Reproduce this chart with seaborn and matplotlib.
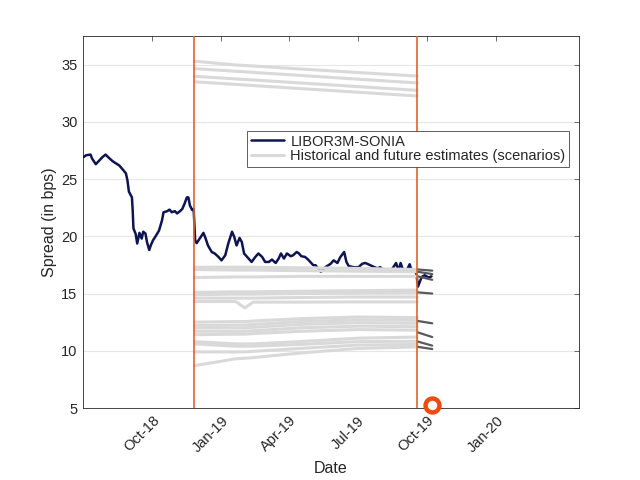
import matplotlib
matplotlib.use('Agg')
import matplotlib.pyplot as plt
import matplotlib.dates as mdates
from matplotlib.lines import Line2D
import numpy as np
import pandas as pd
import seaborn as sns

# Serie storica LIBOR3M-SONIA
libor_dates = [
    '2018-07-02', '2018-07-05', '2018-07-11', '2018-07-13', '2018-07-18', '2018-07-22',
    '2018-07-27', '2018-07-31', '2018-08-04', '2018-08-09', '2018-08-13', '2018-08-18',
    '2018-08-22', '2018-08-27', '2018-08-29', '2018-08-31', '2018-09-04', '2018-09-05',
    '2018-09-06', '2018-09-09', '2018-09-11', '2018-09-14', '2018-09-17', '2018-09-19',
    '2018-09-22', '2018-09-24', '2018-09-27', '2018-09-29', '2018-10-02', '2018-10-05',
    '2018-10-10', '2018-10-14', '2018-10-16', '2018-10-21', '2018-10-24', '2018-10-27',
    '2018-10-31', '2018-11-03', '2018-11-07', '2018-11-10', '2018-11-13', '2018-11-16',
    '2018-11-18', '2018-11-20', '2018-11-23', '2018-11-25', '2018-11-27', '2018-11-29',
    '2018-12-03', '2018-12-08', '2018-12-11', '2018-12-14', '2018-12-19', '2018-12-23',
    '2018-12-28', '2019-01-01', '2019-01-06', '2019-01-10', '2019-01-15', '2019-01-18',
    '2019-01-21', '2019-01-25', '2019-01-28', '2019-01-31', '2019-02-06', '2019-02-10',
    '2019-02-15', '2019-02-19', '2019-02-24', '2019-02-28', '2019-03-05', '2019-03-09',
    '2019-03-14', '2019-03-18', '2019-03-21', '2019-03-25', '2019-03-29', '2019-04-03',
    '2019-04-06', '2019-04-11', '2019-04-14', '2019-04-17', '2019-04-22', '2019-04-26',
    '2019-04-29', '2019-05-03', '2019-05-06', '2019-05-13', '2019-05-19', '2019-05-26',
    '2019-05-30', '2019-06-04', '2019-06-08', '2019-06-13', '2019-06-16', '2019-06-19',
    '2019-06-26', '2019-07-02', '2019-07-07', '2019-07-11', '2019-07-16', '2019-07-20',
    '2019-07-27', '2019-07-31', '2019-08-04', '2019-08-09', '2019-08-13', '2019-08-17',
    '2019-08-21', '2019-08-24', '2019-08-27', '2019-08-31', '2019-09-04', '2019-09-08',
    '2019-09-11', '2019-09-15', '2019-09-17', '2019-09-19', '2019-09-24', '2019-09-28',
    '2019-10-03', '2019-10-07',
]
libor_values = [
    26.93, 27.08, 27.14, 26.80, 26.30, 26.58,
    26.93, 27.14, 26.88, 26.58, 26.40, 26.20,
    25.90, 25.50, 24.90, 23.90, 23.40, 22.30,
    20.70, 20.20, 19.37, 20.30, 19.80, 20.40,
    20.24, 19.50, 18.80, 19.20, 19.65, 19.95,
    20.50, 21.40, 22.10, 22.20, 22.33, 22.10,
    22.20, 22.00, 22.20, 22.40, 22.86, 23.40,
    23.40, 22.70, 22.30, 22.40, 19.65, 19.40,
    19.80, 20.30, 19.80, 19.20, 18.63, 18.50,
    18.20, 17.90, 18.34, 19.37, 20.40, 19.94,
    19.20, 19.86, 19.50, 18.50, 18.06, 17.76,
    18.20, 18.50, 18.20, 17.76, 17.76, 17.97,
    17.67, 18.06, 18.50, 18.06, 18.50, 18.26,
    18.34, 18.63, 18.50, 18.26, 18.20, 17.97,
    17.76, 17.47, 17.47, 16.90, 17.30, 17.60,
    17.90, 17.67, 18.20, 18.63, 17.76, 17.40,
    17.30, 17.30, 17.60, 17.67, 17.53, 17.40,
    17.20, 17.30, 17.07, 17.00, 16.90, 17.27,
    17.67, 17.00, 17.67, 16.90, 17.00, 17.56,
    16.90, 17.00, 16.70, 15.60, 16.45, 16.60,
    16.40, 16.50,
]

# Scenari (stime storiche e future)
scenario_dates = ['2018-11-26', '2019-01-20', '2019-02-01', '2019-02-12',
                  '2019-04-15', '2019-07-01', '2019-09-18']
scenario_values = [
    [35.30, 34.97, 34.92, 34.88, 34.62, 34.31, 34.00],
    [34.65, 34.42, 34.37, 34.32, 34.06, 33.73, 33.40],
    [33.98, 33.75, 33.70, 33.66, 33.40, 33.08, 32.75],
    [33.50, 33.27, 33.22, 33.17, 32.91, 32.59, 32.26],
    [17.30, 17.30, 17.30, 17.30, 17.25, 17.20, 17.10],
    [17.10, 17.05, 17.05, 17.05, 17.00, 16.95, 16.90],
    [16.40, 16.45, 16.45, 16.45, 16.50, 16.50, 16.50],
    [15.10, 15.15, 15.15, 15.15, 15.20, 15.25, 15.30],
    [14.90, 14.95, 14.95, 14.95, 15.00, 15.05, 15.10],
    [14.60, 14.60, 14.60, 14.60, 14.65, 14.70, 14.70],
    [14.30, 14.30, 13.75, 14.25, 14.25, 14.27, 14.27],
    [12.50, 12.55, 12.55, 12.60, 12.80, 12.95, 12.90],
    [12.20, 12.25, 12.25, 12.30, 12.55, 12.70, 12.67],
    [12.00, 12.00, 12.00, 12.05, 12.30, 12.45, 12.40],
    [11.70, 11.70, 11.70, 11.75, 12.00, 12.15, 12.10],
    [11.40, 11.45, 11.45, 11.50, 11.70, 11.85, 11.80],
    [10.80, 10.60, 10.60, 10.60, 10.80, 11.10, 11.20],
    [10.60, 10.40, 10.40, 10.40, 10.55, 10.80, 10.83],
    [9.90, 9.90, 9.90, 9.95, 10.20, 10.50, 10.55],
    [8.70, 9.30, 9.35, 9.40, 9.80, 10.20, 10.34],
]

# Prolungamenti futuri (grigio scuro)
future_dates = ['2019-09-19', '2019-10-08']
future_start = [17.10, 16.90, 16.50, 15.10, 12.60, 11.60, 10.80, 10.34]
future_end = [17.00, 16.70, 16.20, 15.00, 12.40, 11.20, 10.45, 10.15]

event_dates = ['2018-11-26', '2019-09-18']
marker_date = '2019-10-08'
marker_value = 5.25

tick_dates = ['2018-10-01', '2019-01-01', '2019-04-01', '2019-07-01', '2019-10-01', '2020-01-01']

df_libor = pd.DataFrame({'Date': pd.to_datetime(libor_dates), 'Spread': libor_values})
rows = []
for i, vals in enumerate(scenario_values):
    for d, v in zip(scenario_dates, vals):
        rows.append({'Date': pd.to_datetime(d), 'Spread': v, 'scen': i})
df_scen = pd.DataFrame(rows)
rows = []
for i, (a, b) in enumerate(zip(future_start, future_end)):
    rows.append({'Date': pd.to_datetime(future_dates[0]), 'Spread': a, 'scen': i})
    rows.append({'Date': pd.to_datetime(future_dates[1]), 'Spread': b, 'scen': i})
df_future = pd.DataFrame(rows)

sns.set_style('white')
plt.rcParams['font.family'] = ['Liberation Sans', 'DejaVu Sans']

navy = '#0d1452'
grey = '#d9d9d9'
orange = '#e4622a'
axcol = '#262626'

fig = plt.figure(figsize=(6.4, 4.8), dpi=100)
ax = fig.add_axes([83 / 640, 72 / 480, 496 / 640, 372 / 480])

sns.lineplot(data=df_libor, x='Date', y='Spread', color=navy, lw=1.8, ax=ax, zorder=3)
sns.lineplot(data=df_scen, x='Date', y='Spread', units='scen', estimator=None,
             color=grey, lw=2.2, ax=ax, zorder=4)
sns.lineplot(data=df_future, x='Date', y='Spread', units='scen', estimator=None,
             color='#5a5a5a', lw=1.6, ax=ax, zorder=4)
for d in event_dates:
    ax.axvline(pd.to_datetime(d), color=orange, lw=1.2, zorder=5)
ax.plot([pd.to_datetime(marker_date)], [marker_value], 'o', ms=10, mfc='white',
        mec='#f04a0c', mew=3.2, clip_on=False, zorder=6)

ax.set_xlim(pd.to_datetime('2018-07-01'), pd.to_datetime('2020-04-20'))
ax.set_ylim(5, 37.5)
ax.set_yticks([5, 10, 15, 20, 25, 30, 35])
ax.set_xticks(pd.to_datetime(tick_dates))
ax.xaxis.set_major_formatter(mdates.DateFormatter('%b-%y'))
plt.setp(ax.get_xticklabels(), rotation=45, ha='right', rotation_mode='anchor')

ax.yaxis.grid(True, color='#e6e6e6', lw=0.8)
ax.set_axisbelow(True)
for s in ax.spines.values():
    s.set_color(axcol)
    s.set_linewidth(0.6)
ax.tick_params(direction='in', top=True, right=True, length=3.5, width=0.6,
               color='#555555', labelcolor=axcol, labelsize=10.5, pad=4)

ax.set_xlabel('Date', fontsize=11.5, color=axcol)
ax.set_ylabel('Spread (in bps)', fontsize=11.5, color=axcol, labelpad=3)

handles = [Line2D([], [], color=navy, lw=1.8),
           Line2D([], [], color=grey, lw=2.2)]
leg = ax.legend(handles, ['LIBOR3M-SONIA', 'Historical and future estimates (scenarios)'],
                loc='upper right', bbox_to_anchor=(0.98, 0.745), fontsize=10.5,
                frameon=True, fancybox=False, framealpha=1, edgecolor='#444444',
                handlelength=2.3, handletextpad=0.4, borderpad=0.25, labelspacing=0.05,
                borderaxespad=0)
leg.get_frame().set_linewidth(0.6)
leg.set_zorder(7)

fig.savefig('out.png', dpi=100)
